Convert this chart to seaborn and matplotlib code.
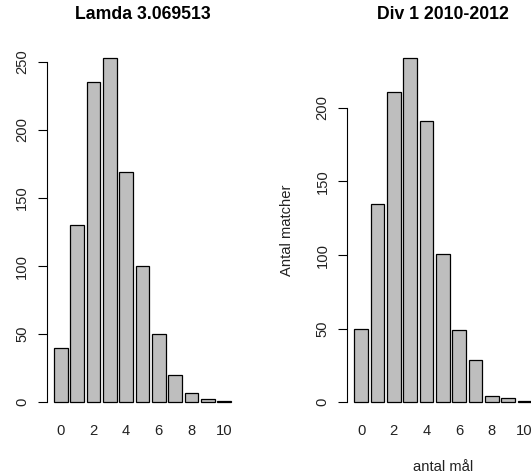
import matplotlib
matplotlib.use('Agg')
import matplotlib.pyplot as plt
import numpy as np
import pandas as pd
import seaborn as sns

sns.set_theme(style='white')
plt.rcParams['font.family'] = ['Liberation Sans', 'DejaVu Sans']

goals = list(range(0, 11))
poisson_counts = [40, 130, 235, 253, 169, 100, 50, 20, 7, 2, 1]
div1_counts = [50, 135, 211, 234, 191, 101, 49, 29, 4, 3, 1]
titles = ['Lamda 3.069513', 'Div 1 2010-2012']
xlab = 'antal mål'
ylab = 'Antal matcher'

W, H = 531, 473
fig = plt.figure(figsize=(W / 100, H / 100), dpi=100)

# axes boxes in pixels (left, top, width, height), copying R's plot regions
boxes = [(46.9, 44, 191.2, 372), (347.2, 44, 191.2, 372)]
datasets = [poisson_counts, div1_counts]

for i, (box, counts) in enumerate(zip(boxes, datasets)):
    l, t, w, h = box
    ax = fig.add_axes([l / W, 1 - (t + h) / H, w / W, h / H])
    df = pd.DataFrame({'goals': goals, 'count': counts})
    sns.barplot(data=df, x='goals', y='count', ax=ax, color='#BEBEBE',
                saturation=1, edgecolor='black', linewidth=0.9, width=1 / 1.2)
    top = max(counts)
    ax.set_ylim(-0.04 * top, 1.04 * top)
    ax.set_xlim(-0.85, 10.85)
    yt = list(range(0, int(top) + 1, 50))
    ax.set_yticks(yt)
    ax.set_yticklabels([str(v) for v in yt], rotation=90, va='center')
    ax.set_xticks(range(0, 11, 2))
    ax.set_xticklabels([str(v) for v in range(0, 11, 2)])
    for s in ['top', 'right', 'bottom']:
        ax.spines[s].set_visible(False)
    ax.spines['left'].set_bounds(0, yt[-1])
    ax.spines['left'].set_color('black')
    ax.spines['left'].set_linewidth(0.8)
    ax.tick_params(axis='y', which='both', left=True, length=6.5, width=0.8,
                   color='black', pad=6.3, labelsize=10.6, labelcolor='#222222')
    ax.tick_params(axis='x', length=0, pad=5.7, labelsize=10.6, labelcolor='#222222')
    ax.set_title(titles[i], fontsize=12.7, fontweight='bold', y=1 + 20.7 / h,
                 va='center', color='black')
    if i == 1:
        ax.set_xlabel(xlab, fontsize=10.6, color='#222222')
        ax.xaxis.set_label_coords(0.5, -50.5 / h)
        ax.xaxis.label.set_va('center')
        ax.set_ylabel(ylab, fontsize=10.6, color='#222222')
        ax.yaxis.set_label_coords(-60 / w, 0.5)
        ax.yaxis.label.set_va('center')
    else:
        ax.set_xlabel('')
        ax.set_ylabel('')

fig.savefig('out.png', dpi=100)
